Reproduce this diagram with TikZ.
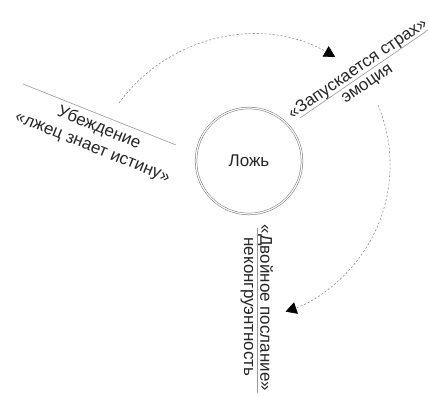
\documentclass[tikz,border=0pt]{standalone}
\usepackage{fontspec}
\setmainfont{Liberation Sans}
\usetikzlibrary{arrows.meta}
\usetikzlibrary{positioning}
\usetikzlibrary{calc}

\begin{document}
\begin{tikzpicture}[x=1pt, y=1pt, >={Triangle[length=11pt,width=12pt,color=black]},
		lbl/.style={inner sep=0pt, text=black!85, font=\fontsize{17}{20}\selectfont},
		uline/.style={draw=black!40, line width=0.6pt},
		flow/.style={draw=black!45, line width=0.6pt, dash pattern=on 2pt off 2pt}]
		\useasboundingbox (0,0) rectangle (429,396);

		%coordinates
		\coordinate (LieC)    at (249,235);

		\coordinate (BelA)    at (23,312);
		\coordinate (BelB)    at (176,251);
		\coordinate (FearA)   at (300,278);
		\coordinate (FearB)   at (428,366);
		\coordinate (DblA)    at (257,168);
		\coordinate (DblB)    at (257,3);

		\coordinate (ArcOneS) at (119,293);
		\coordinate (ArcTwoS) at (378,291);

		%nodes
		\node[circle, draw=black!55, double=white, double distance=1.2pt, line width=0.5pt,
			minimum size=106pt, lbl] (lie) at (LieC) {Ложь};

		\node[lbl, rotate=-22] (belief) at (99,268) {Убеждение};
		\node[lbl, rotate=-22] (truth)  at (92,247) {«лжец знает истину»};

		\node[lbl, rotate=34.5] (fear)    at (358,327) {«Запускается страх»};
		\node[lbl, rotate=34.5] (emotion) at (368,311) {эмоция};

		\node[lbl, rotate=-90] (double) at (265,88) {«Двойное послание»};
		\node[lbl, rotate=-90] (incong) at (247,89) {неконгруэнтность};

		%underlines
		\draw[uline] (BelA) -- (BelB);
		\draw[uline] (FearA) -- (FearB);
		\draw[uline] (DblA) -- (DblB);

		%arcs
		\draw[flow, ->] (ArcOneS) arc[start angle=143.8, end angle=60.3, radius=166];
		\draw[flow, ->] (ArcTwoS) arc[start angle=22.8, end angle=-71, radius=155];
\end{tikzpicture}
\end{document}
